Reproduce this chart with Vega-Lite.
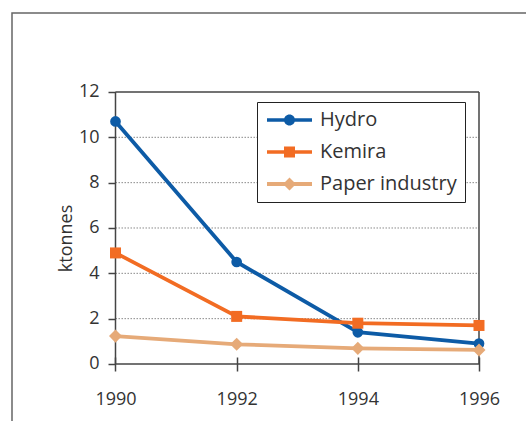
{
  "$schema": "https://vega.github.io/schema/vega-lite/v6.json",
  "width": 524,
  "height": 418,
  "autosize": {"type": "none"},
  "padding": {"left": 12, "top": 13, "right": -10, "bottom": -10},
  "background": "white",
  "config": {
    "view": {"stroke": "#666666", "strokeWidth": 1.5},
    "font": "Open Sans",
    "axis": {
      "labelFont": "Open Sans", "labelColor": "#333333", "titleFont": "Open Sans",
      "titleColor": "#333333", "titleFontWeight": "normal", "tickColor": "#444444",
      "tickWidth": 1.5, "domain": false, "grid": false
    },
    "legend": {
      "orient": "none", "legendX": 245, "legendY": 89, "padding": 8,
      "strokeColor": "#222222", "fillColor": "white", "symbolSize": 400, "labelOffset": 35,
      "rowPadding": 12, "labelFontSize": 20, "labelFont": "Open Sans", "labelColor": "#333333",
      "symbolStrokeWidth": 0, "symbolOpacity": 1
    }
  },
  "datasets": {
    "series": [
      {"year": 1990, "series": "Hydro", "value": 10.7},
      {"year": 1992, "series": "Hydro", "value": 4.5},
      {"year": 1994, "series": "Hydro", "value": 1.4},
      {"year": 1996, "series": "Hydro", "value": 0.9},
      {"year": 1990, "series": "Kemira", "value": 4.9},
      {"year": 1992, "series": "Kemira", "value": 2.1},
      {"year": 1994, "series": "Kemira", "value": 1.8},
      {"year": 1996, "series": "Kemira", "value": 1.7},
      {"year": 1990, "series": "Paper industry", "value": 1.23},
      {"year": 1992, "series": "Paper industry", "value": 0.87},
      {"year": 1994, "series": "Paper industry", "value": 0.69},
      {"year": 1996, "series": "Paper industry", "value": 0.62}
    ],
    "grid": [{"v": 2}, {"v": 4}, {"v": 6}, {"v": 8}, {"v": 10}]
  },
  "layer": [
    {
      "data": {"name": "grid"},
      "mark": {"type": "rule", "stroke": "#888888", "strokeWidth": 1, "strokeDash": [1.5, 1.5]},
      "encoding": {
        "y": {"field": "v", "type": "quantitative"},
        "x": {"datum": 1990, "type": "quantitative"},
        "x2": {"datum": 1996}
      }
    },
    {
      "data": {"values": [{}]},
      "mark": {"type": "rule", "stroke": "#444444", "strokeWidth": 1.5},
      "encoding": {"y": {"datum": 12, "type": "quantitative"}, "x": {"datum": 1990, "type": "quantitative"}, "x2": {"datum": 1996}}
    },
    {
      "data": {"values": [{}]},
      "mark": {"type": "rule", "stroke": "#444444", "strokeWidth": 1.5},
      "encoding": {"y": {"datum": 0, "type": "quantitative"}, "x": {"datum": 1990, "type": "quantitative"}, "x2": {"datum": 1996}}
    },
    {
      "data": {"values": [{}]},
      "mark": {"type": "rule", "stroke": "#444444", "strokeWidth": 1.5},
      "encoding": {"x": {"datum": 1990, "type": "quantitative"}, "y": {"datum": 0, "type": "quantitative"}, "y2": {"datum": 12}}
    },
    {
      "data": {"values": [{}]},
      "mark": {"type": "rule", "stroke": "#444444", "strokeWidth": 1.5},
      "encoding": {"x": {"datum": 1996, "type": "quantitative"}, "y": {"datum": 0, "type": "quantitative"}, "y2": {"datum": 12}}
    },
    {
      "data": {"name": "series"},
      "mark": {"type": "line", "strokeWidth": 3.8},
      "encoding": {
        "x": {
          "field": "year", "type": "quantitative",
          "scale": {"domain": [1988.2916, 1996.9409], "nice": false, "zero": false},
          "axis": {
            "values": [1990, 1992, 1994, 1996], "format": "d", "offset": -74, "tickSize": 14,
            "labelPadding": 19, "labelFontSize": 18, "labelFlush": false, "title": null
          }
        },
        "y": {
          "field": "value", "type": "quantitative",
          "scale": {"domain": [-2.956, 15.485], "nice": false, "zero": false},
          "axis": {
            "values": [0, 2, 4, 6, 8, 10, 12], "offset": -103.5, "tickSize": 7.5,
            "labelPadding": 9, "labelFontSize": 18, "title": "ktonnes", "titleFontSize": 18,
            "titleAngle": 270, "titleBaseline": "alphabetic", "titleX": -44, "titleY": 225
          }
        },
        "color": {
          "field": "series", "type": "nominal",
          "scale": {"domain": ["Hydro", "Kemira", "Paper industry"], "range": ["#0d5ba6", "#f26c23", "#e6aa78"]},
          "legend": {"title": null}
        }
      }
    },
    {
      "data": {"name": "series"},
      "transform": [{"filter": "datum.value > 1000"}],
      "mark": {"type": "point", "filled": true, "opacity": 1},
      "encoding": {
        "x": {"field": "year", "type": "quantitative"},
        "y": {"field": "value", "type": "quantitative"},
        "color": {"field": "series", "type": "nominal", "legend": {"title": null}},
        "shape": {
          "field": "series", "type": "nominal",
          "scale": {
            "domain": ["Hydro", "Kemira", "Paper industry"],
            "range": [
              "M-0.8,-0.18L3.7,-0.18L3.7,0.18L-0.8,0.18ZM0.9,0A0.55,0.55 0 1,1 2,0A0.55,0.55 0 1,1 0.9,0Z",
              "M-0.8,-0.18L3.7,-0.18L3.7,0.18L-0.8,0.18ZM0.9,-0.55L2,-0.55L2,0.55L0.9,0.55Z",
              "M-0.8,-0.2L3.7,-0.2L3.7,0.2L-0.8,0.2ZM1.45,-0.65L2.1,0L1.45,0.65L0.8,0Z"
            ]
          },
          "legend": {"title": null}
        }
      }
    },
    {
      "data": {"name": "series"},
      "transform": [{"filter": "datum.series === 'Hydro'"}],
      "mark": {"type": "point", "filled": true, "opacity": 1, "shape": "circle", "size": 115},
      "encoding": {
        "x": {"field": "year", "type": "quantitative"},
        "y": {"field": "value", "type": "quantitative"},
        "color": {"field": "series", "type": "nominal"}
      }
    },
    {
      "data": {"name": "series"},
      "transform": [{"filter": "datum.series === 'Kemira'"}],
      "mark": {"type": "point", "filled": true, "opacity": 1, "shape": "square", "size": 121},
      "encoding": {
        "x": {"field": "year", "type": "quantitative"},
        "y": {"field": "value", "type": "quantitative"},
        "color": {"field": "series", "type": "nominal"}
      }
    },
    {
      "data": {"name": "series"},
      "transform": [{"filter": "datum.series === 'Paper industry'"}],
      "mark": {"type": "point", "filled": true, "opacity": 1, "shape": "diamond", "size": 170},
      "encoding": {
        "x": {"field": "year", "type": "quantitative"},
        "y": {"field": "value", "type": "quantitative"},
        "color": {"field": "series", "type": "nominal"}
      }
    }
  ]
}
